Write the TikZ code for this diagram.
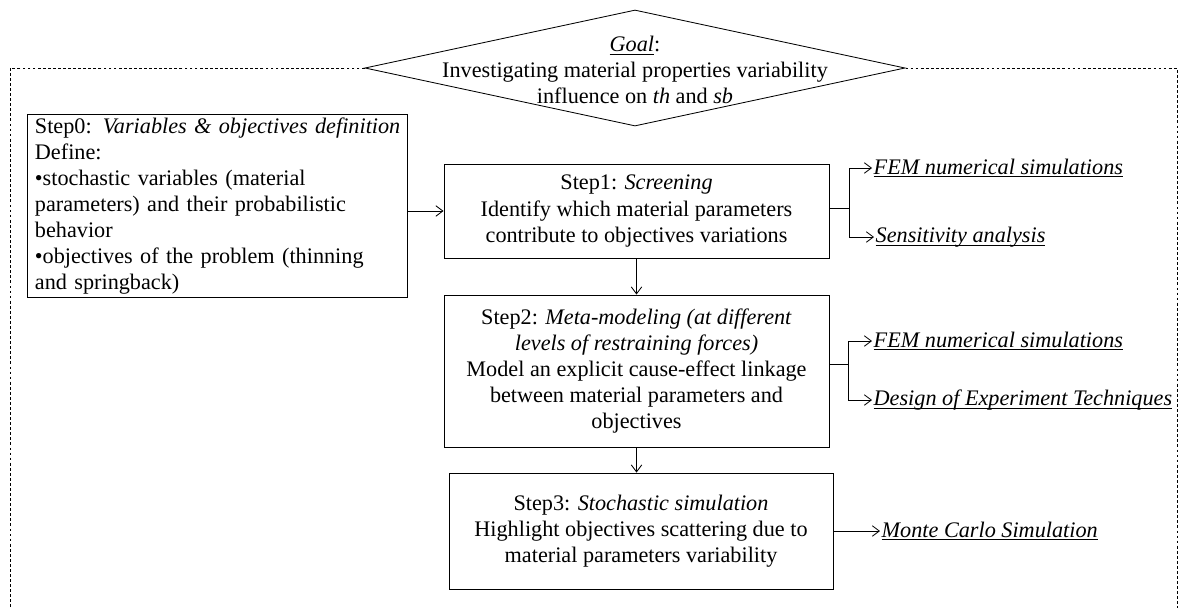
\documentclass[tikz,border=0pt]{standalone}
\usepackage{fontspec}
\setmainfont{Liberation Serif}
\usetikzlibrary{shapes.geometric,positioning,arrows.meta}
\newcommand{\ulin}[1]{\setbox0\hbox{#1}\rlap{\rule[-2.2pt]{\wd0}{0.6pt}}\box0}
\tikzset{stepbox/.style={rectangle,draw,line width=0.6pt,align=center,inner sep=2pt,font=\fontsize{15.8}{18.5}\selectfont},
  goalbox/.style={diamond,draw,line width=0.6pt,inner sep=0pt},
  tool/.style={anchor=west,inner sep=1pt,font=\fontsize{15.8}{18.5}\selectfont\itshape},
  frame/.style={dash pattern=on 2pt off 1.6pt,line width=0.5pt},
  link/.style={->,line width=0.6pt}}

\begin{document}
\begin{tikzpicture}[>={Straight Barb[length=5pt,width=7.5pt]},x=0.025cm,y=-0.025cm]
        \useasboundingbox (0,0) rectangle (1189,608);

        % goal and outer frame
        \node[goalbox,minimum width=13.5cm,minimum height=2.9cm] (goal) at (635,68) {};
        \node[align=center,font=\fontsize{15.8}{18.5}\selectfont] (goaltext) at (635,70) {\ulin{\textit{Goal}}:\\Investigating material properties variability\\influence on \textit{th} and \textit{sb}};
        \coordinate (frameBL) at (10,608);
        \coordinate (frameBR) at (1177,608);
        \draw [frame] (goal.west) -| (frameBL);
        \draw [frame] (goal.east) -| (frameBR);

        % steps
        \node[stepbox,align=left,text width=9.1cm,inner xsep=0.2cm,inner ysep=0pt,minimum height=4.575cm] (s0) at (217,206) {\mbox{Step0: \textit{Variables \& objectives definition}}\\Define:\\•stochastic variables (material\\parameters) and their probabilistic\\behavior\\•objectives of the problem (thinning\\and springback)};
        \node[stepbox,minimum width=9.625cm,minimum height=2.35cm] (s1) at (636.5,211) {Step1: \textit{Screening}\\Identify which material parameters\\contribute to objectives variations};
        \node[stepbox,minimum width=9.625cm,minimum height=3.8cm] (s2) at (636.5,371) {Step2: \textit{Meta-modeling (at different}\\\textit{levels of restraining forces)}\\Model an explicit cause-effect linkage\\between material parameters and\\objectives};
        \node[stepbox,minimum width=9.6cm,minimum height=2.9cm] (s3) at (641,531) {Step3: \textit{Stochastic simulation}\\Highlight objectives scattering due to\\material parameters variability};

        % tools
        \node[tool] (fem1) at (872,168) {\ulin{FEM numerical simulations}};
        \node[tool] (sens) at (874,237) {\ulin{Sensitivity analysis}};
        \node[tool] (fem2) at (872,341) {\ulin{FEM numerical simulations}};
        \node[tool] (doe) at (872,400) {\ulin{Design of Experiment Techniques}};
        \node[tool] (mc) at (880,531) {\ulin{Monte Carlo Simulation}};
        \coordinate (j1) at (849,208);
        \coordinate (j2) at (848,364);

        \draw [link] (s0.east |- s1.west) to [] (s1.west);
        \draw [link] (s1.south) to [] (s2.north);
        \draw [link] (s2.south) to [] (s2.south |- s3.north);
        \draw [line width=0.6pt] (s1.east |- j1) to [] (j1);
        \draw [link] (j1) |- (fem1.west);
        \draw [link] (j1) |- (sens.west);
        \draw [line width=0.6pt] (s2.east |- j2) to [] (j2);
        \draw [link] (j2) |- (fem2.west);
        \draw [link] (j2) |- (doe.west);
        \draw [link] (s3.east |- mc.west) to [] (mc.west);
    \end{tikzpicture}
\end{document}
